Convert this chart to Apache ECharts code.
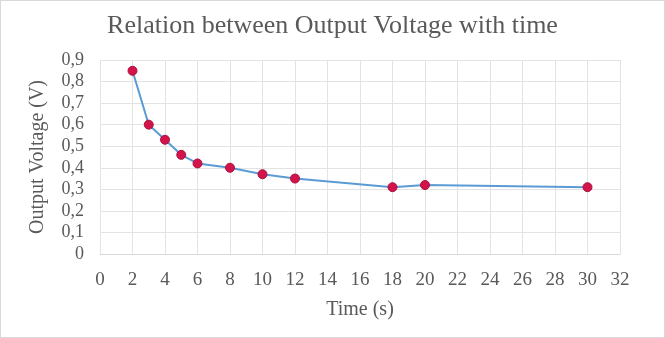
<!DOCTYPE html>
<html>
<head>
<meta charset="utf-8">
<script src="https://cdn.jsdelivr.net/npm/echarts@6/dist/echarts.min.js"></script>
<style>
  html, body { margin: 0; padding: 0; background: #fff; }
  #chart { width: 663px; height: 336px; border: 1px solid #d9d9d9; }
</style>
</head>
<body>
<div id="chart"></div>
<script>
  // measured points: time (s), output voltage (V)
  const times = [2, 3, 4, 5, 6, 8, 10, 12, 18, 20, 30];
  const voltages = [0.85, 0.60, 0.53, 0.46, 0.42, 0.40, 0.37, 0.35, 0.31, 0.32, 0.31];

  const serif = 'Liberation Serif';
  const chart = echarts.init(document.getElementById('chart'));
  chart.setOption({
    animation: false,
    title: {
      text: 'Relation between Output Voltage with time',
      left: 'center',
      top: 7,
      textStyle: { fontFamily: serif, fontSize: 26, fontWeight: 'normal', color: '#595959' }
    },
    grid: { left: 99, right: 44, top: 59, bottom: 83 },
    xAxis: {
      type: 'value',
      min: 0, max: 32, interval: 2,
      name: 'Time (s)',
      nameLocation: 'middle',
      nameGap: 46,
      nameTextStyle: { fontFamily: serif, fontSize: 20, color: '#595959' },
      axisLine: { show: true, lineStyle: { color: '#d9d9d9' } },
      axisTick: { show: false },
      axisLabel: { fontFamily: serif, fontSize: 19, color: '#595959', margin: 17 },
      splitLine: { lineStyle: { color: '#e3e3e3' } }
    },
    yAxis: {
      type: 'value',
      min: 0, max: 0.9, interval: 0.1,
      name: 'Output Voltage (V)',
      nameLocation: 'middle',
      nameGap: 52,
      nameTextStyle: { fontFamily: serif, fontSize: 20, color: '#595959' },
      axisLine: { show: false },
      axisTick: { show: false },
      axisLabel: {
        fontFamily: serif, fontSize: 18, color: '#595959', margin: 16,
        formatter: v => (Math.round(v * 10) / 10).toString().replace('.', ',')
      },
      splitLine: { lineStyle: { color: '#e3e3e3' } }
    },
    series: [{
      type: 'line',
      data: times.map((t, i) => [t, voltages[i]]),
      symbol: 'circle',
      symbolSize: 9,
      lineStyle: { color: '#5b9bd5', width: 2 },
      itemStyle: { color: '#d4134a', borderColor: '#a8123e', borderWidth: 1 }
    }]
  });
</script>
</body>
</html>
